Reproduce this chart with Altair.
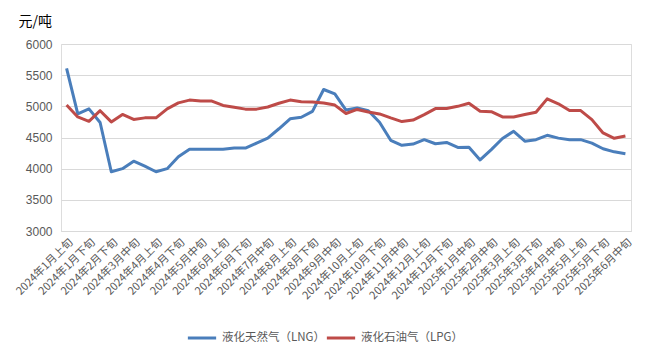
import altair as alt
import pandas as pd

periods = [
    "2024年1月上旬", "2024年1月中旬", "2024年1月下旬", "2024年2月上旬", "2024年2月下旬",
    "2024年3月上旬", "2024年3月中旬", "2024年3月下旬", "2024年4月上旬", "2024年4月中旬",
    "2024年4月下旬", "2024年5月上旬", "2024年5月中旬", "2024年5月下旬", "2024年6月上旬",
    "2024年6月中旬", "2024年6月下旬", "2024年7月上旬", "2024年7月中旬", "2024年7月下旬",
    "2024年8月上旬", "2024年8月中旬", "2024年8月下旬", "2024年9月上旬", "2024年9月中旬",
    "2024年9月下旬", "2024年10月上旬", "2024年10月中旬", "2024年10月下旬", "2024年11月上旬",
    "2024年11月中旬", "2024年11月下旬", "2024年12月上旬", "2024年12月中旬", "2024年12月下旬",
    "2025年1月上旬", "2025年1月中旬", "2025年1月下旬", "2025年2月中旬", "2025年2月下旬",
    "2025年3月上旬", "2025年3月中旬", "2025年3月下旬", "2025年4月上旬", "2025年4月中旬",
    "2025年4月下旬", "2025年5月上旬", "2025年5月中旬", "2025年5月下旬", "2025年6月上旬",
    "2025年6月中旬",
]

lng = [
    5610, 4880, 4960, 4740, 3950, 4000, 4120, 4040, 3950, 4000,
    4190, 4310, 4310, 4310, 4310, 4330, 4330, 4410, 4490, 4640,
    4800, 4825, 4920, 5270, 5200, 4940, 4975, 4930, 4745, 4455,
    4375, 4395, 4465, 4400, 4420, 4340, 4345, 4140, 4305, 4485,
    4600, 4440, 4465, 4535, 4490, 4465, 4465, 4410, 4320, 4270,
    4240,
]

lpg = [
    5020, 4830, 4760, 4930, 4750, 4870, 4790, 4815, 4815, 4960,
    5055, 5100, 5085, 5085, 5015, 4985, 4955, 4955, 4990, 5050,
    5100, 5075, 5070, 5055, 5020, 4885, 4950, 4910, 4878, 4814,
    4755, 4780, 4868, 4964, 4964, 5000, 5050, 4920, 4915, 4830,
    4830, 4868, 4905, 5120, 5040, 4932, 4932, 4787, 4573, 4487,
    4525,
]

series_names = ["液化天然气（LNG）", "液化石油气（LPG）"]
series_colors = ["#4A7EBB", "#BE4B48"]

rows = []
for i, p in enumerate(periods):
    rows.append({"period": p, "series": series_names[0], "value": lng[i], "idx": i})
    rows.append({"period": p, "series": series_names[1], "value": lpg[i], "idx": i})
df = pd.DataFrame(rows)

shown_labels = periods[::2]
FONT = "Noto Sans CJK SC"

chart = alt.Chart(df).mark_line(strokeWidth=3, strokeJoin="round").encode(
    x=alt.X(
        "period:N",
        sort=periods,
        scale=alt.Scale(type="point", padding=0.5),
        axis=alt.Axis(
            title=None,
            values=shown_labels,
            labelAngle=-45,
            labelFontSize=11,
            labelColor="#595959",
            labelFont=FONT,
            labelPadding=5,
            ticks=False,
            domain=True,
            domainColor="#D9D9D9",
            grid=False,
            labelOverlap=False,
        ),
    ),
    y=alt.Y(
        "value:Q",
        scale=alt.Scale(domain=[3000, 6000], nice=False, zero=False),
        axis=alt.Axis(
            title="元/吨",
            titleAngle=0,
            titleAlign="left",
            titleBaseline="middle",
            titleX=-43,
            titleY=-23,
            titleFontSize=14,
            titleFontWeight="normal",
            titleColor="#000000",
            titleFont=FONT,
            values=[3000, 3500, 4000, 4500, 5000, 5500, 6000],
            format="d",
            labelFontSize=12,
            labelColor="#595959",
            labelFont="Liberation Sans",
            labelPadding=9,
            ticks=False,
            domain=False,
            gridColor="#D9D9D9",
            gridWidth=1,
        ),
    ),
    color=alt.Color(
        "series:N",
        scale=alt.Scale(domain=series_names, range=series_colors),
        legend=alt.Legend(
            title=None,
            orient="none",
            direction="horizontal",
            legendX=125,
            legendY=278,
            symbolType="stroke",
            symbolStrokeWidth=3,
            symbolSize=800,
            labelFontSize=11.5,
            labelColor="#595959",
            labelFont=FONT,
            columnPadding=-5,
        ),
    ),
    order="idx:Q",
).properties(
    width=570,
    height=187,
    autosize=alt.AutoSizeParams(type="none"),
    padding={"left": 61, "top": 44, "right": 20, "bottom": 125},
).configure_view(stroke=None).configure(background="white")

chart.save("out.html", embed_options={"renderer": "svg", "actions": False})
